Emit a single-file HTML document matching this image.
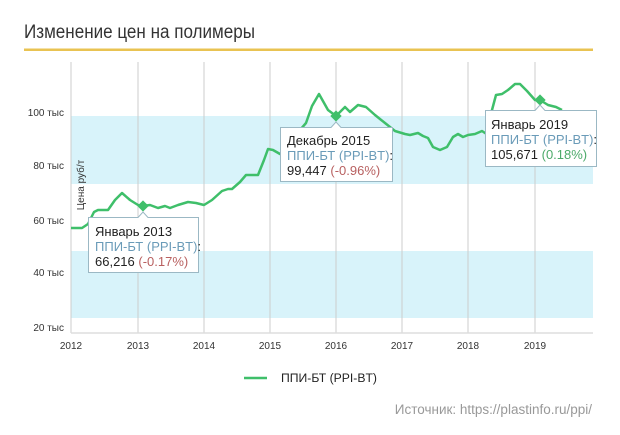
<!DOCTYPE html>
<html><head><meta charset="utf-8"><style>
body{margin:0;background:#fff;width:620px;height:430px;overflow:hidden;font-family:"Liberation Sans","DejaVu Sans",sans-serif}
</style></head><body>
<svg width="620" height="430" xmlns="http://www.w3.org/2000/svg" font-family="Liberation Sans, DejaVu Sans, sans-serif">
<text x="24" y="38" font-size="19" fill="#333" textLength="231" lengthAdjust="spacingAndGlyphs">Изменение цен на полимеры</text>
<rect x="24" y="48.5" width="569" height="2.5" fill="#e9c352"/>
<rect x="71" y="116" width="522" height="68" fill="#d8f3fa"/>
<rect x="71" y="251" width="522" height="67" fill="#d8f3fa"/>
<g stroke="#ccc" stroke-width="1">
<line x1="71" y1="62" x2="71" y2="333"/><line x1="138" y1="62" x2="138" y2="333"/><line x1="204" y1="62" x2="204" y2="333"/><line x1="270" y1="62" x2="270" y2="333"/><line x1="336" y1="62" x2="336" y2="333"/><line x1="402" y1="62" x2="402" y2="333"/><line x1="468" y1="62" x2="468" y2="333"/><line x1="535" y1="62" x2="535" y2="333"/>
</g>
<line x1="71" y1="333" x2="593" y2="333" stroke="#ddd" stroke-width="1.5"/>
<g font-size="10" fill="#333" text-anchor="end">
<text x="64" y="116">100 тыс</text><text x="64" y="169">80 тыс</text><text x="64" y="224">60 тыс</text><text x="64" y="276">40 тыс</text><text x="64" y="331">20 тыс</text>
</g>
<g font-size="10" fill="#333" text-anchor="middle">
<text x="71" y="349">2012</text><text x="138" y="349">2013</text><text x="204" y="349">2014</text><text x="270" y="349">2015</text><text x="336" y="349">2016</text><text x="402" y="349">2017</text><text x="468" y="349">2018</text><text x="535" y="349">2019</text>
</g>
<text transform="translate(84,185) rotate(-90)" font-size="10" fill="#333" text-anchor="middle">Цена руб/т</text>
<polyline fill="none" stroke="#3fbf6a" stroke-width="2.5" stroke-linejoin="round" points="71,228 82,228 88,224 94,212 98,210 108,210 115,200 122,193 130,200 138,205 143,206 150,205 158,208 165,206 170,208 178,205 188,202 196,203 204,205 212,200 222,191 228,189 232,189 240,182 246,175 250,175 258,175 264,160 268,149 273,150 280,154 290,145 300,130 306,123 312,106 319,94 328,110 336,116 345,107 350,112 358,105 366,107 375,115 385,123 395,131 405,134 410,135 418,133 423,136 428,138 433,147 440,150 447,147 453,137 458,134 463,137 468,135 475,134 482,131 488,135 492,110 496,95 502,94 508,90 515,84 520,84 527,91 535,100 540,100 548,105 556,107 562,110"/>
<g fill="#3fbf6a">
<rect x="139" y="202" width="8" height="8" transform="rotate(45 143 206)"/>
<rect x="332" y="112" width="8" height="8" transform="rotate(45 336 116)"/>
<rect x="536" y="96" width="8" height="8" transform="rotate(45 540 100)"/>
</g>
<g stroke="#9bb8c4" stroke-width="1" fill="#fff">
<path d="M88.5,217.5 H138 L143,212 L148,217.5 H198.5 V272.5 H88.5 Z"/>
<path d="M280.5,127.5 H331 L336,122 L341,127.5 H392.5 V181.5 H280.5 Z"/>
<path d="M485.5,110.5 H535 L540,105 L545,110.5 H596.5 V166.5 H485.5 Z"/>
</g>
<g font-size="13">
<text x="95" y="236" fill="#222">Январь 2013</text>
<text x="95" y="251"><tspan fill="#6a9bb8">ППИ-БТ (PPI-BT)</tspan><tspan fill="#222">:</tspan></text>
<text x="95" y="266"><tspan fill="#222">66,216 </tspan><tspan fill="#b86060">(-0.17%)</tspan></text>
<text x="287" y="145" fill="#222">Декабрь 2015</text>
<text x="287" y="160"><tspan fill="#6a9bb8">ППИ-БТ (PPI-BT)</tspan><tspan fill="#222">:</tspan></text>
<text x="287" y="175"><tspan fill="#222">99,447 </tspan><tspan fill="#b86060">(-0.96%)</tspan></text>
<text x="491" y="129" fill="#222">Январь 2019</text>
<text x="491" y="144"><tspan fill="#6a9bb8">ППИ-БТ (PPI-BT)</tspan><tspan fill="#222">:</tspan></text>
<text x="491" y="159"><tspan fill="#222">105,671 </tspan><tspan fill="#4caa6a">(0.18%)</tspan></text>
</g>
<line x1="244" y1="378" x2="267" y2="378" stroke="#3fbf6a" stroke-width="2.5"/>
<text x="281" y="382" font-size="11.5" fill="#222" textLength="96" lengthAdjust="spacingAndGlyphs">ППИ-БТ (PPI-BT)</text>
<text x="592" y="414" font-size="13.5" fill="#999" text-anchor="end">Источник: https://plastinfo.ru/ppi/</text>
</svg>
</body></html>
